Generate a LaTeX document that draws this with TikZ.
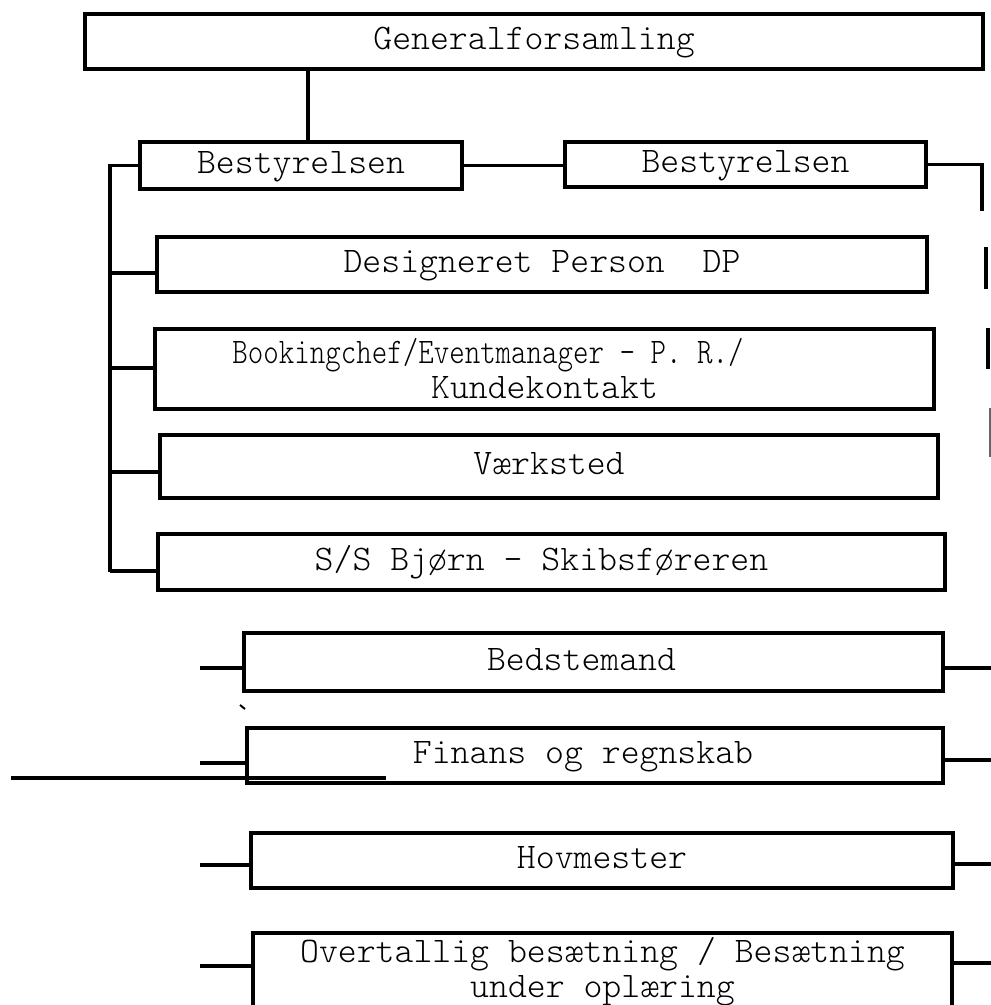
\documentclass[tikz,border=0pt]{standalone}
\usepackage{fontspec}
\newfontfamily\courfont{lmmonolt10-regular.otf}
\begin{document}
\begin{tikzpicture}[x=1pt,y=-1pt,
  box/.style={draw, line width=3.5pt, rectangle, inner sep=0pt, align=center,
    font=\fontsize{36}{35}\selectfont\courfont},
  one/.style={text height=20pt, text depth=4pt},
  txt/.style={inner sep=0pt, align=center, font=\fontsize{36}{35}\selectfont\courfont},
  conn/.style={line width=3.5pt},
  thinconn/.style={line width=2.5pt, black!60}]
\useasboundingbox (0,0) rectangle (991,1005);
\clip (0,0) rectangle (991,1005);

% boxes
\node[box, one, minimum width=898, minimum height=55] (gf) at (534,41.5) {Generalforsamling};
\node[box, one, minimum width=322, minimum height=47] (b1) at (301,165.5) {Bestyrelsen};
\node[box, one, minimum width=361, minimum height=45] (b2) at (745.5,164.5) {Bestyrelsen};
\node[box, one, minimum width=770, minimum height=55] (dp) at (542,264.5) {Designeret Person\ \ DP};
\node[box, minimum width=779, minimum height=80] (bk) at (544.5,369)
  {\hspace*{-113pt}\scalebox{0.82}[1]{Bookingchef/Eventmanager – P. R./}\\Kundekontakt};
\node[box, one, minimum width=778, minimum height=63] (vk) at (549,466.5) {Værksted};
\node[box, one, minimum width=787, minimum height=56] (ss) at (551.5,562) {\hspace*{-20pt}S/S Bjørn - Skibsføreren};
\node[box, one, minimum width=699, minimum height=58] (bd) at (593.5,662) {\hspace*{-24pt}Bedstemand};
\node[box, one, minimum width=696, minimum height=55] (fi) at (595,755.5) {\hspace*{-24pt}Finans og regnskab};
\node[box, one, minimum width=702, minimum height=55] (hv) at (602,860.5) {Hovmester};
\node[box, minimum width=699, minimum height=87,
  label={[txt, yshift=5pt]center:Overtallig besætning / Besætning\\under oplæring}] (ov) at (602.5,976.5) {};

% top connectors
\draw[conn] ([xshift=7pt]b1.north) -- ([xshift=7pt]b1.north |- gf.south);
\draw[conn] (b1.east) -- (b1.east -| b2.west);

% right side
\coordinate (r1) at (982,211);
\draw[conn] (b2.east) -| (r1);
\coordinate (d1a) at (986,247); \coordinate (d1b) at (986,289);
\coordinate (d2a) at (988,328); \coordinate (d2b) at (988,369);
\coordinate (d3a) at (990,408); \coordinate (d3b) at (990,457);
\draw[conn] (d1a) -- (d1b);
\draw[conn] (d2a) -- (d2b);
\draw[thinconn] (d3a) -- (d3b);

% left bracket
\coordinate (lt) at (110,572);
\draw[conn] (b1.west) -| (lt);
\draw[conn] ([yshift=-8.5pt]dp.west) -- ([yshift=-8.5pt]dp.west -| lt);
\draw[conn] ([yshift=1pt]bk.west) -- ([yshift=1pt]bk.west -| lt);
\draw[conn] ([yshift=-5.5pt]vk.west) -- ([yshift=-5.5pt]vk.west -| lt);
\draw[conn] ([yshift=-9pt]ss.west) -- ([yshift=-9pt]ss.west -| lt);

% lower left stubs
\coordinate (sl) at (200,0);
\draw[conn] ([yshift=-6pt]bd.west) -- ([yshift=-6pt]bd.west -| sl);
\draw[conn] ([yshift=-7.5pt]fi.west) -- ([yshift=-7.5pt]fi.west -| sl);
\draw[conn] ([yshift=-4.5pt]hv.west) -- ([yshift=-4.5pt]hv.west -| sl);
\draw[conn] ([yshift=10.5pt]ov.west) -- ([yshift=10.5pt]ov.west -| sl);

% lower right stubs
\coordinate (sr) at (995,0);
\draw[conn] ([yshift=-6pt]bd.east) -- ([yshift=-6pt]bd.east -| sr);
\draw[conn] ([yshift=-4.5pt]fi.east) -- ([yshift=-4.5pt]fi.east -| sr);
\draw[conn] ([yshift=-3.5pt]hv.east) -- ([yshift=-3.5pt]hv.east -| sr);
\draw[conn] ([yshift=13.5pt]ov.east) -- ([yshift=13.5pt]ov.east -| sr);

% long stray line and tick
\coordinate (la) at (11,778); \coordinate (lb) at (386,778);
\draw[conn] (la) -- (lb);
\coordinate (ta) at (240,705); \coordinate (tb) at (245,709);
\draw[line width=2pt] (ta) -- (tb);
\end{tikzpicture}
\end{document}
